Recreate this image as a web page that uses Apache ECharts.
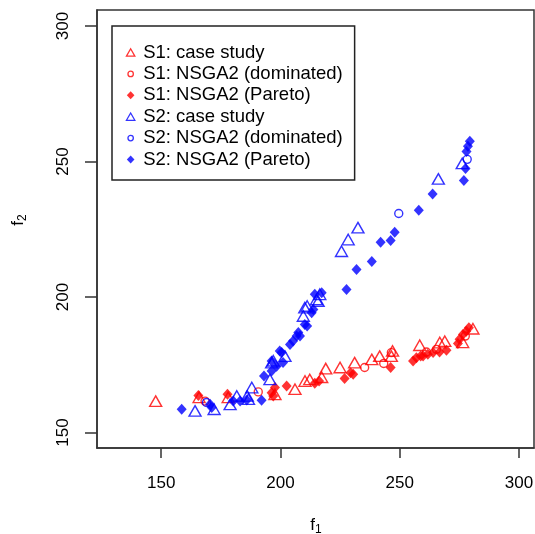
<!DOCTYPE html>
<html>
<head>
<meta charset="utf-8">
<script src="https://cdn.jsdelivr.net/npm/echarts@6/dist/echarts.min.js"></script>
<style>
  html, body { margin: 0; padding: 0; background: #fff; }
  #chart { width: 535px; height: 534px; }
</style>
</head>
<body>
<div id="chart"></div>
<script>
// Axis ticks
const xTicks = [150, 200, 250, 300];
const yTicks = [150, 200, 250, 300];

// Series names
const names = [
  'S1: case study',
  'S1: NSGA2 (dominated)',
  'S1: NSGA2 (Pareto)',
  'S2: case study',
  'S2: NSGA2 (dominated)',
  'S2: NSGA2 (Pareto)'
];

// Scenario 1 points [f1, f2]
const s1Case = [
  [147.7, 161.6], [165.9, 163.0], [178.1, 163.0], [197.7, 164.1], [206.1, 166.0],
  [210.3, 169.0], [212.3, 169.6], [217.3, 170.4], [219.0, 173.6], [225.0, 174.0],
  [231.1, 175.8], [238.3, 177.0], [241.6, 178.2], [247.0, 180.1], [246.5, 178.2],
  [258.4, 182.2], [266.8, 183.2], [268.9, 183.7], [276.4, 183.3], [280.7, 188.3]
];
const s1Dominated = [
  [168.4, 161.6], [190.7, 165.0], [235.3, 174.0], [243.3, 175.5], [246.5, 179.5],
  [261.2, 179.7], [265.4, 180.7], [277.5, 185.6]
];
const s1Pareto = [
  [165.6, 163.7], [177.8, 164.1], [196.3, 164.7], [197.0, 163.5], [197.7, 166.6],
  [202.6, 167.2], [214.4, 168.2], [216.2, 169.0], [226.9, 169.9], [229.4, 172.1],
  [230.5, 171.5], [246.2, 174.0], [255.6, 176.4], [257.0, 177.6], [258.8, 178.2],
  [259.8, 178.2], [261.8, 178.9], [264.0, 179.5], [266.7, 179.7], [269.6, 180.4],
  [274.4, 182.9], [275.1, 184.4], [276.5, 186.2], [277.9, 187.4], [279.0, 188.7]
];

// Scenario 2 points [f1, f2]
const s2Case = [
  [164.2, 158.0], [172.2, 158.6], [178.9, 160.4], [181.7, 163.5], [186.1, 163.5],
  [186.6, 162.3], [188.0, 166.6], [195.6, 169.6], [196.3, 175.8], [197.0, 176.5],
  [201.9, 178.2], [209.6, 193.0], [210.2, 196.1], [211.2, 196.7], [215.8, 198.5],
  [215.1, 199.1], [216.5, 201.0], [225.6, 216.9], [228.4, 221.2], [232.5, 225.6],
  [266.2, 243.6], [276.2, 249.3]
];
const s2Dominated = [
  [169.0, 161.1], [249.6, 230.8], [278.3, 250.8]
];
const s2Pareto = [
  [158.6, 158.6], [170.5, 160.4], [171.2, 159.2], [180.2, 161.6], [183.1, 161.6],
  [185.9, 162.0], [192.1, 161.9], [193.1, 170.9], [196.3, 172.7], [196.3, 176.4],
  [198.4, 174.5], [200.5, 179.5], [201.1, 175.8], [199.7, 180.1], [204.0, 182.5],
  [205.3, 183.8], [206.8, 185.6], [207.5, 186.9], [208.2, 185.6], [210.2, 189.9],
  [211.2, 189.3], [213.1, 194.2], [213.8, 195.4], [214.4, 201.0], [217.3, 201.6],
  [227.7, 202.8], [231.9, 210.2], [238.3, 213.1], [242.0, 220.2], [246.2, 220.9],
  [247.9, 223.9], [258.0, 232.0], [263.8, 238.0], [276.9, 243.0], [277.6, 247.4],
  [278.0, 253.7], [278.6, 255.6], [279.4, 257.5]
];

const RED = '#ff0000';
const BLUE = '#0000ff';
const AXIS = '#333333';
const FONT = 'Liberation Sans, Arial, sans-serif';

function openSeries(name, data, color, symbol, size) {
  return {
    type: 'scatter', name, data, symbol, symbolSize: size,
    itemStyle: { color: 'rgba(0,0,0,0)', borderColor: color, borderWidth: 1.4 },
    emphasis: { disabled: true }, silent: true
  };
}
function filledSeries(name, data, color) {
  return {
    type: 'scatter', name, data, symbol: 'diamond', symbolSize: [10, 11],
    itemStyle: { color: color },
    emphasis: { disabled: true }, silent: true
  };
}

// Legend icons in a 10x10 frame so each keeps its own size
const ICON_TRI = 'path://M0,0M10,10M5,1.3L9.2,8.6L0.8,8.6Z';
const ICON_CIRC = 'path://M0,0M10,10M7.7,5A2.7,2.7,0,1,1,2.3,5A2.7,2.7,0,1,1,7.7,5Z';
const ICON_DIAM = 'path://M0,0M10,10M5,1L8.8,5L5,9L1.2,5Z';

const legendItems = [
  { name: names[0], icon: ICON_TRI, itemStyle: { color: 'rgba(0,0,0,0)', borderColor: RED, borderWidth: 1.3 } },
  { name: names[1], icon: ICON_CIRC, itemStyle: { color: 'rgba(0,0,0,0)', borderColor: RED, borderWidth: 1.3 } },
  { name: names[2], icon: ICON_DIAM, itemStyle: { color: RED, borderWidth: 0 } },
  { name: names[3], icon: ICON_TRI, itemStyle: { color: 'rgba(0,0,0,0)', borderColor: BLUE, borderWidth: 1.3 } },
  { name: names[4], icon: ICON_CIRC, itemStyle: { color: 'rgba(0,0,0,0)', borderColor: BLUE, borderWidth: 1.3 } },
  { name: names[5], icon: ICON_DIAM, itemStyle: { color: BLUE, borderWidth: 0 } }
];

const subRich = {
  f: { fontFamily: FONT, fontSize: 17, fill: '#000', lineHeight: 22, verticalAlign: 'middle' },
  s: { fontFamily: FONT, fontSize: 12, fill: '#000', lineHeight: 22, verticalAlign: 'bottom' }
};

const chart = echarts.init(document.getElementById('chart'), null, { renderer: 'canvas' });
chart.setOption({
  animation: false,
  backgroundColor: '#fff',
  grid: {
    left: 97, right: 1, top: 10, bottom: 86,
    show: true, borderColor: AXIS, borderWidth: 1.5,
    outerBoundsMode: 'none'
  },
  xAxis: {
    type: 'value', min: 123.1, max: 306.3,
    splitLine: { show: false },
    axisLine: { show: true, lineStyle: { color: AXIS, width: 1.5 } },
    axisTick: { show: true, inside: false, length: 10, customValues: xTicks, lineStyle: { color: AXIS, width: 1.5 } },
    axisLabel: { customValues: xTicks, margin: 27, fontSize: 17, fontFamily: FONT, color: '#000' }
  },
  yAxis: {
    type: 'value', min: 144.3, max: 305.9,
    splitLine: { show: false },
    axisLine: { show: true, lineStyle: { color: AXIS, width: 1.5 } },
    axisTick: { show: true, inside: false, length: 12, customValues: yTicks, lineStyle: { color: AXIS, width: 1.5 } },
    axisLabel: { customValues: yTicks, rotate: 90, margin: 25, fontSize: 17, fontFamily: FONT, color: '#000' }
  },
  legend: {
    orient: 'vertical', left: 112, top: 26,
    padding: [16, 12, 10, 13],
    itemWidth: 15, itemHeight: 10, itemGap: 0.4,
    backgroundColor: '#fff', borderColor: '#222', borderWidth: 1.5, borderRadius: 0,
    selectedMode: false,
    textStyle: { fontFamily: FONT, fontSize: 18.5, color: '#000', lineHeight: 21 },
    data: legendItems
  },
  graphic: [
    {
      type: 'text', x: 316, y: 525, silent: true,
      style: { text: '{f|f}{s|1}', align: 'center', verticalAlign: 'middle', rich: subRich }
    },
    {
      type: 'text', x: 18, y: 220, rotation: Math.PI / 2, silent: true,
      style: { text: '{f|f}{s|2}', align: 'center', verticalAlign: 'middle', rich: subRich }
    }
  ],
  series: [
    openSeries(names[0], s1Case, RED, 'triangle', [12, 10.5]),
    openSeries(names[1], s1Dominated, RED, 'circle', 8),
    filledSeries(names[2], s1Pareto, RED),
    openSeries(names[3], s2Case, BLUE, 'triangle', [12, 10.5]),
    openSeries(names[4], s2Dominated, BLUE, 'circle', 8),
    filledSeries(names[5], s2Pareto, BLUE)
  ]
});
</script>
</body>
</html>
